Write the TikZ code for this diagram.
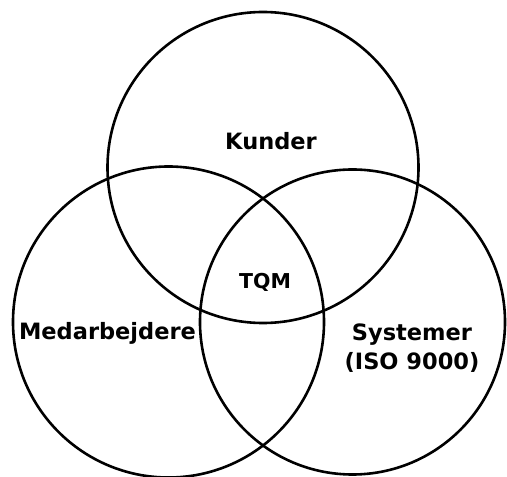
\documentclass[tikz,border=0pt]{standalone}
\usepackage{fontspec}
\setmainfont{DejaVu Sans}
\begin{document}
\begin{tikzpicture}[x=1pt,y=1pt,
  ring/.style={circle,draw=black,line width=2.6pt,inner sep=0pt},
  label/.style={font=\bfseries\fontsize{22.5}{29}\selectfont,align=center,inner sep=0pt}]
  \useasboundingbox (0,0) rectangle (507,477);
  % the three overlapping sets
  \node[ring,minimum size=311pt] (kunder) at (263,309.5) {};
  \node[ring,minimum size=311pt] (medarb) at (168.5,155) {};
  \node[ring,minimum size=305pt] (system) at (352.5,155) {};
  % labels
  \node[label] (lk) at (271,336) {Kunder};
  \node[label] (lm) at (107.5,144) {Medarbejdere};
  \node[label] (ls) at (412,128.5) {Systemer\\(ISO 9000)};
  \node[label,font=\bfseries\fontsize{20.5}{24}\selectfont] (lt) at (265,195) {TQM};
\end{tikzpicture}
\end{document}
